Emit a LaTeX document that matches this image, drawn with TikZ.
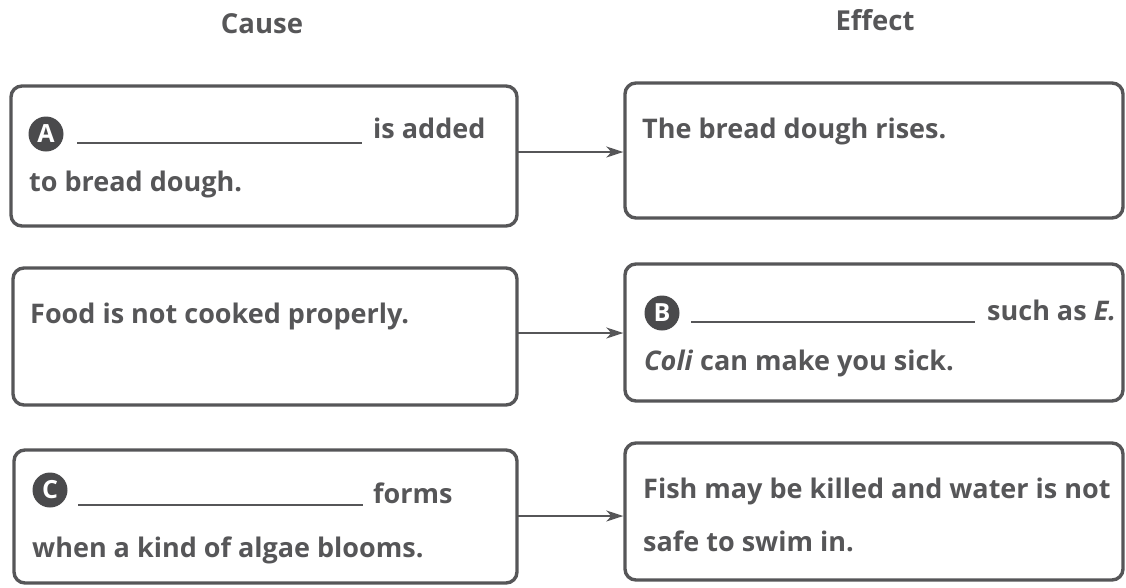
\documentclass[tikz,border=0pt]{standalone}
\usepackage{fontspec}
\setmainfont{Open Sans}
\usetikzlibrary{arrows.meta}
\definecolor{ink}{HTML}{565658}
\definecolor{dot}{HTML}{4A4A4C}
\tikzset{
  box/.style={draw=ink, line width=3.4pt, rounded corners=11pt, inner sep=0pt},
  txt/.style={anchor=base west, inner sep=0pt, text=ink, font=\fontsize{27}{32}\selectfont\bfseries},
  ttl/.style={inner sep=0pt, text=ink, font=\fontsize{27.5}{32}\selectfont\bfseries},
  badge/.style={circle, fill=dot, text=white, inner sep=0pt, minimum size=35pt, font=\fontsize{25}{28}\selectfont\bfseries},
  blank/.style={draw=ink, line width=1.8pt},
  conn/.style={draw=ink, line width=1.6pt, -{Stealth[length=17pt,width=11pt,inset=5pt]}}
}
\begin{document}
\begin{tikzpicture}[x=1pt,y=-1pt]
\useasboundingbox (0,0) rectangle (1126,587);
% titles
\node[ttl] (tc) at (262,24) {Cause};
\node[ttl] (te) at (875,20) {Effect};
% boxes
\node[box, minimum width=506pt, minimum height=140pt] (L1) at (264,156) {};
\node[box, minimum width=498pt, minimum height=135pt] (R1) at (874,150.5) {};
\node[box, minimum width=504pt, minimum height=137pt] (L2) at (265,336.5) {};
\node[box, minimum width=498pt, minimum height=137pt] (R2) at (874,332.5) {};
\node[box, minimum width=503pt, minimum height=133pt] (L3) at (265.5,516.5) {};
\node[box, minimum width=498pt, minimum height=137pt] (R3) at (874,511.5) {};
% connectors
\coordinate (a1) at (517,152);
\coordinate (a2) at (517,333);
\coordinate (a3) at (517,516);
\draw[conn] (a1) -- (a1 -| R1.west);
\draw[conn] (a2) -- (a2 -| R2.west);
\draw[conn] (a3) -- (a3 -| R3.west);
% row 1
\node[badge] (bA) at (46,134) {A};
\coordinate (la1) at (77,143);
\coordinate (la2) at (362,143);
\draw[blank] (la1) -- (la2);
\node[txt] (t1a) at (373,138) {is added};
\node[txt] (t1b) at (29,191) {to bread dough.};
\node[txt] (t1r) at (642,138) {The bread dough rises.};
% row 2
\node[txt] (t2a) at (30,323) {Food is not cooked properly.};
\node[badge] (bB) at (662,313) {B};
\coordinate (lb1) at (691,322);
\coordinate (lb2) at (975,322);
\draw[blank] (lb1) -- (lb2);
\node[txt] (t2r) at (987,320) {such as \textit{E.}};
\node[txt] (t2s) at (644,370) {\textit{Coli} can make you sick.};
% row 3
\node[badge] (bC) at (50,490) {C};
\coordinate (lc1) at (78,505);
\coordinate (lc2) at (363,505);
\draw[blank] (lc1) -- (lc2);
\node[txt] (t3a) at (373,503) {forms};
\node[txt] (t3b) at (32,557) {when a kind of algae blooms.};
\node[txt] (t3r) at (643,498) {Fish may be killed and water is not};
\node[txt] (t3s) at (643,551) {safe to swim in.};
\end{tikzpicture}
\end{document}
